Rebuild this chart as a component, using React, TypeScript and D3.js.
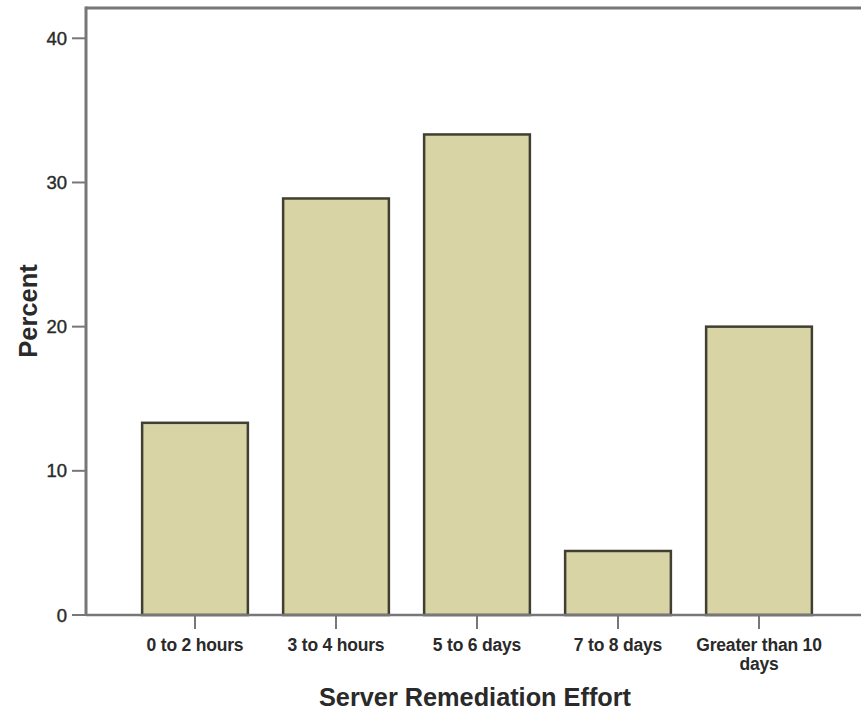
import React from "react";
import * as d3 from "d3";

const categories: string[][] = [
  ["0 to 2 hours"],
  ["3 to 4 hours"],
  ["5 to 6 days"],
  ["7 to 8 days"],
  ["Greater than 10", "days"],
];
const percentValues: number[] = [13.33, 28.89, 33.33, 4.44, 20.0];
const yTickValues: number[] = [0, 10, 20, 30, 40];

const W = 861;
const H = 712;
const axisX = 86;
const topY = 8;
const zeroY = 615;

export default function App() {
  const keys = categories.map((c) => c.join(" "));
  const x = d3.scaleBand<string>().domain(keys).range([124.5, 829.5]).paddingInner(0.25).paddingOuter(0.125);
  const y = d3.scaleLinear().domain([0, 40]).range([zeroY, 38.3]);
  const font = "'Liberation Sans', Arial, sans-serif";
  const axisColor = "#777";
  const textColor = "#2a2a2a";

  return (
    <svg width={W} height={H} style={{ position: "absolute", left: 0, top: 0, background: "#fff" }}>
      {/* frame lines */}
      <line x1={axisX} x2={W} y1={topY} y2={topY} stroke={axisColor} strokeWidth={3} />
      <line x1={axisX} x2={axisX} y1={topY - 1.5} y2={zeroY + 1} stroke={axisColor} strokeWidth={3} />
      {/* bars */}
      {percentValues.map((v, i) => (
        <rect
          key={keys[i]}
          x={x(keys[i])!}
          y={y(v)}
          width={x.bandwidth()}
          height={zeroY - y(v)}
          fill="#d8d4a5"
          stroke="#403f32"
          strokeWidth={2.5}
        />
      ))}
      <line x1={axisX} x2={W} y1={zeroY} y2={zeroY} stroke={axisColor} strokeWidth={2.5} />
      {/* y ticks */}
      {yTickValues.map((t) => (
        <g key={t}>
          <line x1={72} x2={axisX} y1={y(t)} y2={y(t)} stroke={axisColor} strokeWidth={2} />
          <text x={67} y={y(t) + 6.5} textAnchor="end" fontFamily={font} fontSize={18.5} fill={textColor} stroke={textColor} strokeWidth={0.4}>
            {t}
          </text>
        </g>
      ))}
      {/* x ticks */}
      {categories.map((c, i) => {
        const cx = x(keys[i])! + x.bandwidth() / 2;
        return (
          <g key={keys[i]}>
            <line x1={cx} x2={cx} y1={zeroY} y2={629} stroke={axisColor} strokeWidth={2} />
            <text textAnchor="middle" fontFamily={font} fontSize={17.5} fill={textColor} fontWeight="bold" letterSpacing={-0.2}>
              {c.map((line, j) => (
                <tspan key={j} x={cx} y={651 + j * 19}>
                  {line}
                </tspan>
              ))}
            </text>
          </g>
        );
      })}
      {/* axis titles */}
      <text
        transform={`translate(37,311) rotate(-90)`}
        textAnchor="middle"
        fontFamily={font}
        fontSize={25.5}
        fontWeight="bold"
        fill={textColor}
      >
        Percent
      </text>
      <text x={475} y={706} textAnchor="middle" fontFamily={font} fontSize={25.3} fontWeight="bold" fill={textColor}>
        Server Remediation Effort
      </text>
    </svg>
  );
}
